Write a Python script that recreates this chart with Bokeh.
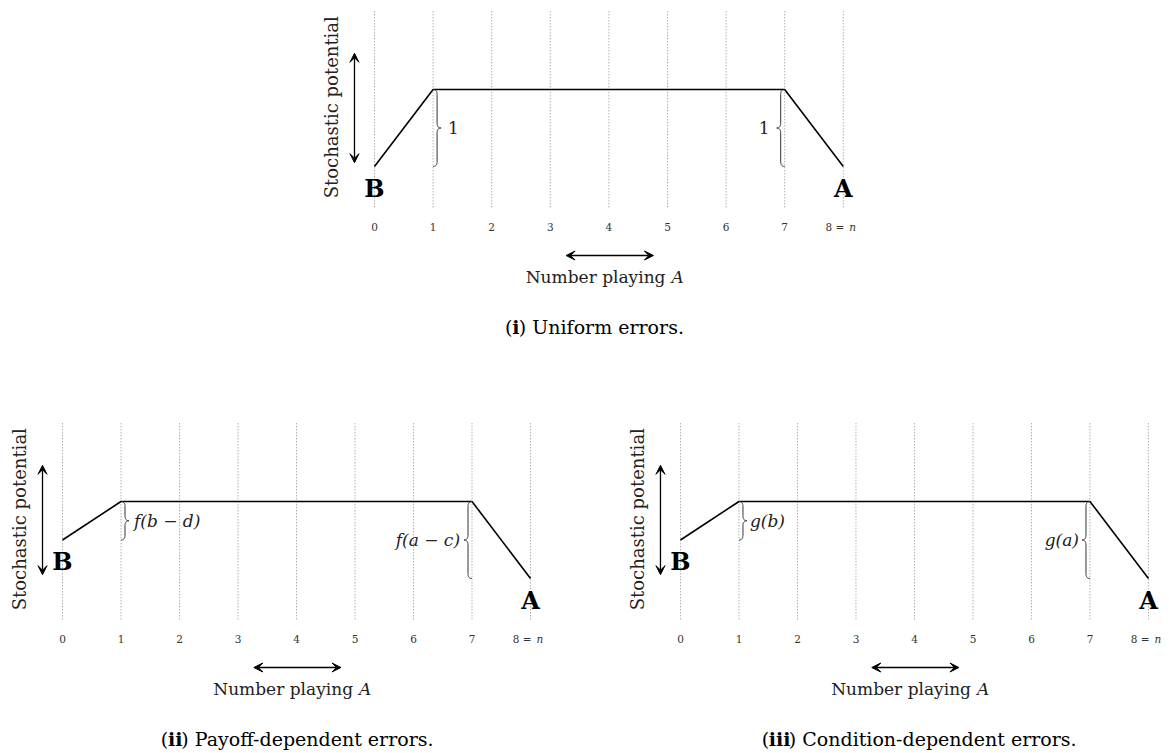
import numpy as np
from bokeh.plotting import figure
from bokeh.models import Range1d, Arrow, VeeHead, Spacer
from bokeh.layouts import column, row
from bokeh.embed import file_html
from bokeh.resources import INLINE
from bokeh.core.properties import value

# ---------------- data ----------------
states = [0, 1, 2, 3, 4, 5, 6, 7, 8]
tick_labels = ["0", "1", "2", "3", "4", "5", "6", "7", "8 = n"]
potential_uniform = [0, 1, 1, 1, 1, 1, 1, 1, 0]
potential_payoff = [0.5, 1, 1, 1, 1, 1, 1, 1, 0]
potential_condition = [0.5, 1, 1, 1, 1, 1, 1, 1, 0]
brace_labels_uniform = ["1", "1"]
brace_labels_payoff = ["f(b − d)", "f(a − c)"]
brace_labels_condition = ["g(b)", "g(a)"]
caption_uniform = ("i", "Uniform errors.")
caption_payoff = ("ii", "Payoff-dependent errors.")
caption_condition = ("iii", "Condition-dependent errors.")
x_label = ("Number playing", "A")
y_label = "Stochastic potential"
end_labels = ["B", "A"]

SERIF = value("DejaVu Serif")
TXT = "#222222"

NARROW = set("iljtfr.,:;()[]- '")
WIDE = set("mwMW")


def est_w(s, fs, bold=False):
    tot = 0.0
    for ch in s:
        if ch == " ":
            tot += 0.32
        elif ch in WIDE:
            tot += 0.94
        elif ch in NARROW:
            tot += 0.35 if bold else 0.38
        elif ch.isupper():
            tot += 0.74
        else:
            tot += 0.60
    return tot * fs


def bez(p0, c, p1, n=14):
    t = np.linspace(0, 1, n)[:, None]
    return (1 - t) ** 2 * np.array(p0) + 2 * (1 - t) * t * np.array(c) + t ** 2 * np.array(p1)


def brace_path(x, ylo, yhi, w, q):
    ym = (ylo + yhi) / 2.0
    h = x + w / 2.0
    segs = [bez((x, yhi), (h, yhi), (h, yhi - q)),
            np.array([[h, yhi - q], [h, ym + q]]),
            bez((h, ym + q), (h, ym), (x + w, ym)),
            bez((x + w, ym), (h, ym), (h, ym - q)),
            np.array([[h, ym - q], [h, ylo + q]]),
            bez((h, ylo + q), (h, ylo), (x, ylo))]
    pts = np.vstack(segs)
    return pts[:, 0], pts[:, 1]


def panel(pot, braces, brace_off, cap, width, height, x_start, y_top, sx, cap_x):
    sy = 77.0
    p = figure(width=width, height=height, output_backend="svg", toolbar_location=None,
               x_range=Range1d(x_start, x_start + width / sx),
               y_range=Range1d(y_top - height / sy, y_top),
               x_axis_location=None, y_axis_location=None, min_border=0,
               outline_line_color=None, tools="")
    p.grid.visible = False
    p.background_fill_color = "white"
    p.border_fill_color = "white"

    # dotted verticals at each state
    p.segment(x0=states, y0=[-0.53] * len(states), x1=states, y1=[2.02] * len(states),
              line_color="#8c8c8c", line_width=1, line_dash="1 2")

    # potential curve
    p.line(states, pot, line_color="black", line_width=1.6)

    # braces
    w = 8.0 / sx
    q = 5.0 / sy
    bx, by = brace_path(states[1], pot[0], pot[1], w, q)
    p.line(bx, by, line_color="#333333", line_width=1.0)
    bx, by = brace_path(states[7], pot[8], pot[7], -w, q)
    p.line(bx, by, line_color="#333333", line_width=1.0)
    p.text(x=[states[1]], y=[(pot[0] + pot[1]) / 2], text=[braces[0]], x_offset=brace_off[0],
           text_align="left", text_baseline="middle", text_font=SERIF,
           text_font_size="17px", text_font_style="italic" if braces[0] != "1" else "normal",
           text_color=TXT)
    p.text(x=[states[7]], y=[(pot[7] + pot[8]) / 2], text=[braces[1]], x_offset=brace_off[1],
           text_align="right", text_baseline="middle", text_font=SERIF,
           text_font_size="17px", text_font_style="italic" if braces[1] != "1" else "normal",
           text_color=TXT)

    # end labels
    p.text(x=[states[0]], y=[pot[0] - 0.28], text=[end_labels[0]], text_align="center",
           text_baseline="middle", text_font=SERIF, text_font_size="24px",
           text_font_style="bold", text_color="black")
    p.text(x=[states[-1]], y=[pot[-1] - 0.29], text=[end_labels[1]], text_align="center",
           text_baseline="middle", text_font=SERIF, text_font_size="24px",
           text_font_style="bold", text_color="black")

    # tick labels
    p.text(x=states[:-1], y=[-0.78] * (len(states) - 1), text=tick_labels[:-1],
           text_align="center", text_baseline="middle", text_font=SERIF,
           text_font_size="10.5px", text_color="#333333")
    head, tail = tick_labels[-1].rsplit(" ", 1)
    p.text(x=[states[-1]], y=[-0.78], text=[head], x_offset=1, text_align="right",
           text_baseline="middle", text_font=SERIF, text_font_size="10.5px", text_color="#333333")
    p.text(x=[states[-1]], y=[-0.78], text=[tail], x_offset=6, text_align="left",
           text_baseline="middle", text_font=SERIF, text_font_size="10.5px",
           text_font_style="italic", text_color="#333333")

    # y label + vertical double arrow
    p.text(x=[states[0]], y=[0.77], text=[y_label], x_offset=-43, angle=np.pi / 2,
           text_align="center", text_baseline="middle", text_font=SERIF,
           text_font_size="18px", text_color=TXT)
    ax = states[0] - 20.0 / sx
    p.add_layout(Arrow(start=VeeHead(size=9, fill_color="black", line_color="black"),
                       end=VeeHead(size=9, fill_color="black", line_color="black"),
                       x_start=ax, y_start=0.05, x_end=ax, y_end=1.47,
                       line_width=1.3, line_color="black"))

    # x label + horizontal double arrow
    p.add_layout(Arrow(start=VeeHead(size=9, fill_color="black", line_color="black"),
                       end=VeeHead(size=9, fill_color="black", line_color="black"),
                       x_start=3.27, y_start=-1.156, x_end=4.76, y_end=-1.156,
                       line_width=1.3, line_color="black"))
    p.text(x=[5.0], y=[-1.43], text=[x_label[0]], x_offset=-2, text_align="right",
           text_baseline="middle", text_font=SERIF, text_font_size="17px", text_color=TXT)
    p.text(x=[5.0], y=[-1.43], text=[x_label[1]], x_offset=4, text_align="left",
           text_baseline="middle", text_font=SERIF, text_font_size="17px",
           text_font_style="italic", text_color=TXT)

    # caption
    fs = 19
    bold, rest = cap
    w_open = est_w("(", fs)
    w_bold = est_w(bold, fs, True)
    w_rest = est_w(") " + rest, fs)
    left = -(w_open + w_bold + w_rest) / 2.0
    cy = -2.09
    p.text(x=[cap_x], y=[cy], text=["("], x_offset=left, text_align="left",
           text_baseline="middle", text_font=SERIF, text_font_size=f"{fs}px", text_color="black")
    p.text(x=[cap_x], y=[cy], text=[bold], x_offset=left + w_open, text_align="left",
           text_baseline="middle", text_font=SERIF, text_font_size=f"{fs}px",
           text_font_style="bold", text_color="black")
    p.text(x=[cap_x], y=[cy], text=[") " + rest], x_offset=left + w_open + w_bold,
           text_align="left", text_baseline="middle", text_font=SERIF,
           text_font_size=f"{fs}px", text_color="black")
    return p


p1 = panel(potential_uniform, brace_labels_uniform, (15, -15), caption_uniform,
           width=580, height=350, x_start=-1.126, y_top=2.156, sx=58.6, cap_x=3.70)
p2 = panel(potential_payoff, brace_labels_payoff, (13, -12), caption_payoff,
           width=590, height=400, x_start=-1.060, y_top=2.961, sx=58.5, cap_x=4.0)
p3 = panel(potential_condition, brace_labels_condition, (11, -11), caption_condition,
           width=578, height=400, x_start=-1.538, y_top=2.961, sx=58.5, cap_x=4.02)

layout = column(row(Spacer(width=308, height=350), p1), row(p2, p3))
open("out.html", "w").write(file_html(layout, INLINE))
